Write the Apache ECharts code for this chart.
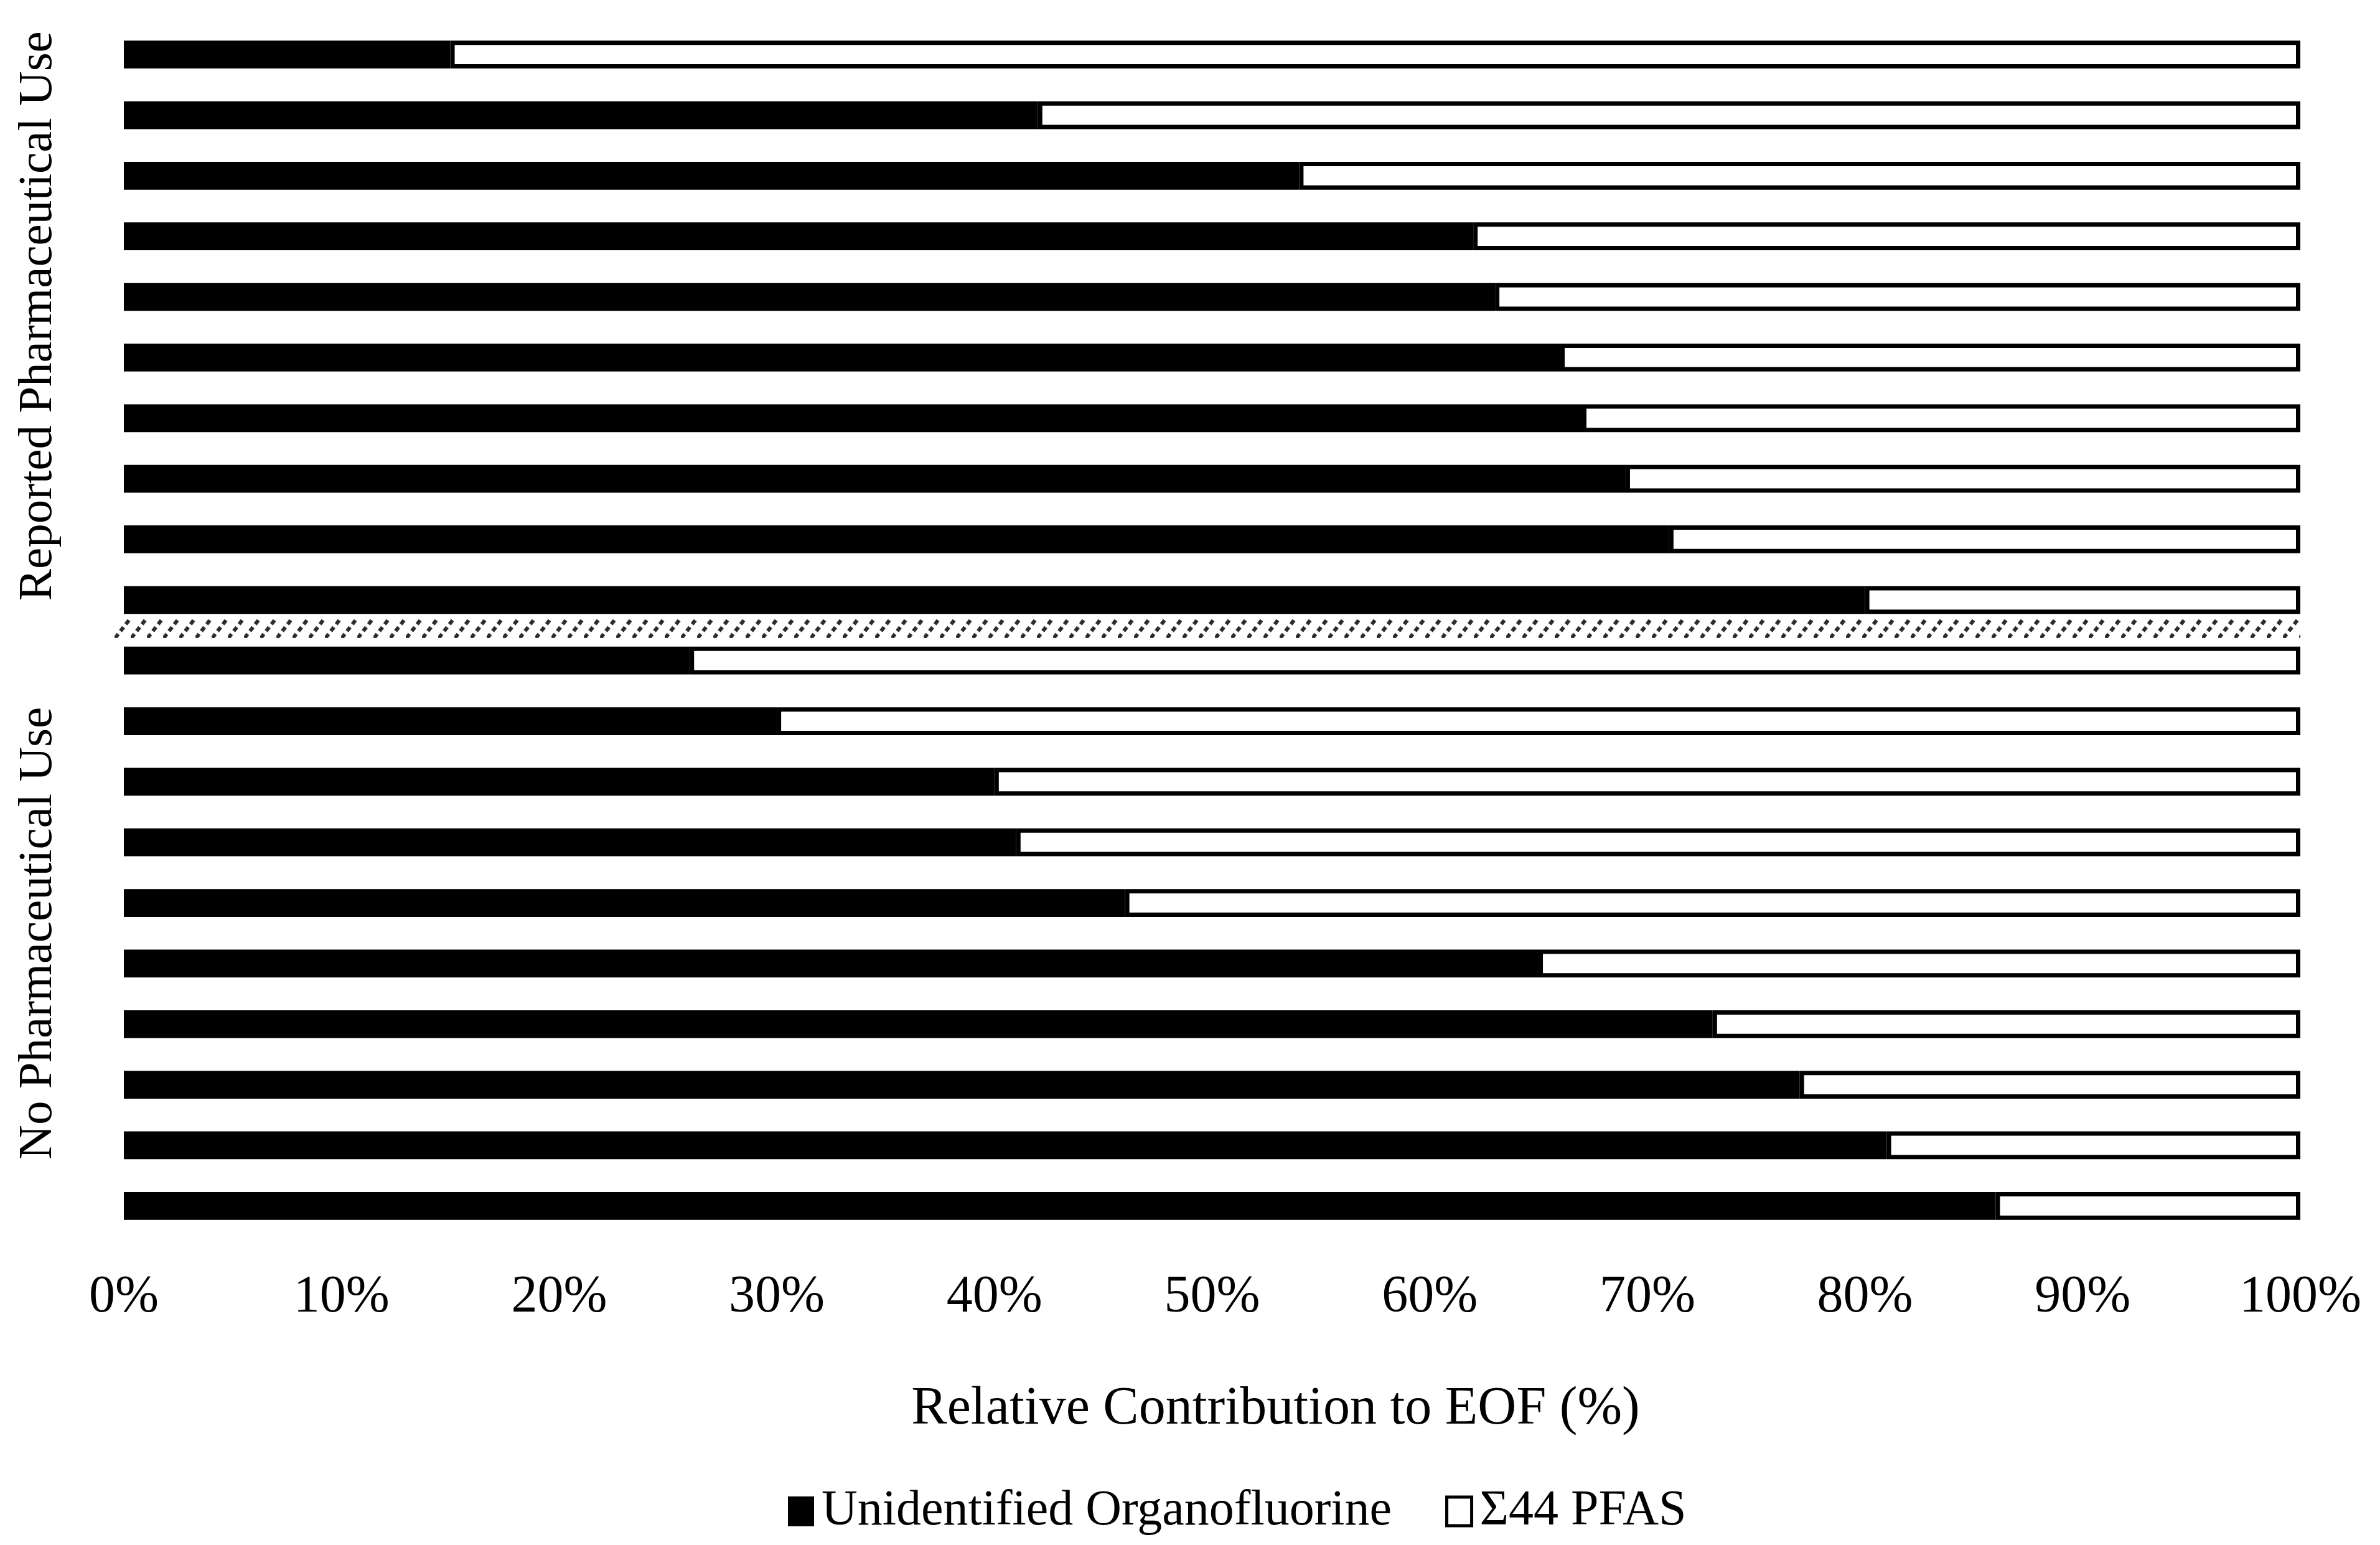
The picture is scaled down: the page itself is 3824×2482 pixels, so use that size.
<!DOCTYPE html>
<html>
<head>
<meta charset="utf-8">
<script src="https://cdn.jsdelivr.net/npm/echarts@6/dist/echarts.min.js"></script>
<style>
html,body{margin:0;padding:0;background:#fff;}
#chart{width:3824px;height:2482px;}
</style>
</head>
<body>
<div id="chart"></div>
<script>
// ---- data ----
const samples = ['P1','P2','P3','P4','P5','P6','P7','P8','P9','P10',
                 'N1','N2','N3','N4','N5','N6','N7','N8','N9','N10'];
const groups = ['Reported Pharmaceutical Use', 'No Pharmaceutical Use'];
const unidentified = [15, 42, 54, 62, 63, 66, 67, 69, 71, 80,
                      26, 30, 40, 41, 46, 65, 73, 77, 81, 86];
const pfas44 = [85, 58, 46, 38, 37, 34, 33, 31, 29, 20,
                74, 70, 60, 59, 54, 35, 27, 23, 19, 14];
const seriesNames = ['Unidentified Organofluorine', 'Σ44 PFAS'];
const xTickLabels = ['0%','10%','20%','30%','40%','50%','60%','70%','80%','90%','100%'];
const xTitle = 'Relative Contribution to EOF (%)';
const lastIndexOfFirstGroup = 9;

const FONT = '"Liberation Serif", "Times New Roman", serif';

// hatch pattern tile for the group separator
const tile = document.createElement('canvas');
tile.width = 26; tile.height = 31;
const tc = tile.getContext('2d');
tc.strokeStyle = '#2b2b2b';
tc.lineWidth = 6;
tc.setLineDash([8, 6]);
tc.beginPath();
tc.moveTo(1, 31);
tc.lineTo(25, 0);
tc.stroke();

const chart = echarts.init(document.getElementById('chart'), null, {renderer: 'canvas'});

const groupLabelStyle = {fontFamily: FONT, fontSize: 77, lineHeight: 80, color: '#000'};

const option = {
  backgroundColor: '#ffffff',
  animation: false,
  grid: {
    left: 199, right: 128, top: 39, bottom: 496,
    containLabel: false,
    outerBoundsMode: 'none'
  },
  legend: {
    left: 1261, top: 2383,
    icon: 'rect',
    itemWidth: 40, itemHeight: 46,
    itemGap: 86,
    textStyle: {fontFamily: FONT, fontSize: 80, color: '#000', padding: [0, 0, 0, 8]},
    data: [
      {name: seriesNames[0]},
      {name: seriesNames[1], itemStyle: {borderWidth: 5, borderColor: '#000', color: '#fff'}}
    ]
  },
  xAxis: {
    type: 'value',
    min: 0, max: 100, interval: 10,
    axisLine: {show: false},
    axisTick: {show: false},
    splitLine: {show: false},
    axisLabel: {
      fontFamily: FONT, fontSize: 84, color: '#000', margin: 57,
      formatter: function (v) { return xTickLabels[Math.round(v / 10)]; }
    },
    name: xTitle,
    nameLocation: 'middle',
    nameGap: 235,
    nameTextStyle: {fontFamily: FONT, fontSize: 86, color: '#000', padding: [0, 0, 0, 204]}
  },
  yAxis: [
    {
      type: 'category',
      data: samples,
      inverse: true,
      axisLine: {show: false},
      axisTick: {show: false},
      axisLabel: {show: false},
      splitLine: {show: false}
    },
    {
      type: 'category',
      data: groups,
      inverse: true,
      position: 'left',
      axisLine: {show: false},
      axisTick: {show: false},
      splitLine: {show: false},
      axisLabel: {
        interval: 0,
        rotate: 90,
        margin: 97,
        fontFamily: FONT, fontSize: 77, lineHeight: 80, color: '#000',
        formatter: function (value, index) {
          return (index === 0 ? '{a|' : '{b|') + value + '}';
        },
        rich: {
          a: Object.assign({padding: [0, 0, 0, 36]}, groupLabelStyle),
          b: Object.assign({}, groupLabelStyle)
        }
      }
    }
  ],
  series: [
    {
      name: seriesNames[0],
      type: 'bar',
      stack: 'total',
      yAxisIndex: 0,
      barWidth: '46%',
      data: unidentified,
      itemStyle: {color: '#000', borderColor: '#000', borderWidth: 7}
    },
    {
      name: seriesNames[1],
      type: 'bar',
      stack: 'total',
      yAxisIndex: 0,
      barWidth: '46%',
      data: pfas44,
      itemStyle: {color: '#fff', borderColor: '#000', borderWidth: 7}
    },
    {
      type: 'custom',
      yAxisIndex: 0,
      silent: true,
      data: [[0, lastIndexOfFirstGroup]],
      renderItem: function (params, api) {
        const yA = api.coord([0, lastIndexOfFirstGroup])[1];
        const yB = api.coord([0, lastIndexOfFirstGroup + 1])[1];
        const band = api.size([0, 1])[1];
        const h = band * 0.32;
        const x0 = api.coord([0, 0])[0] - 15;
        const x1 = api.coord([100, 0])[0];
        const yc = (yA + yB) / 2 - 3;
        const top = yc - h / 2;
        return {
          type: 'rect',
          shape: {x: x0, y: top, width: x1 - x0, height: h},
          style: {fill: {image: tile, repeat: 'repeat', x: x0, y: top}}
        };
      }
    }
  ]
};

chart.setOption(option);
</script>
</body>
</html>
